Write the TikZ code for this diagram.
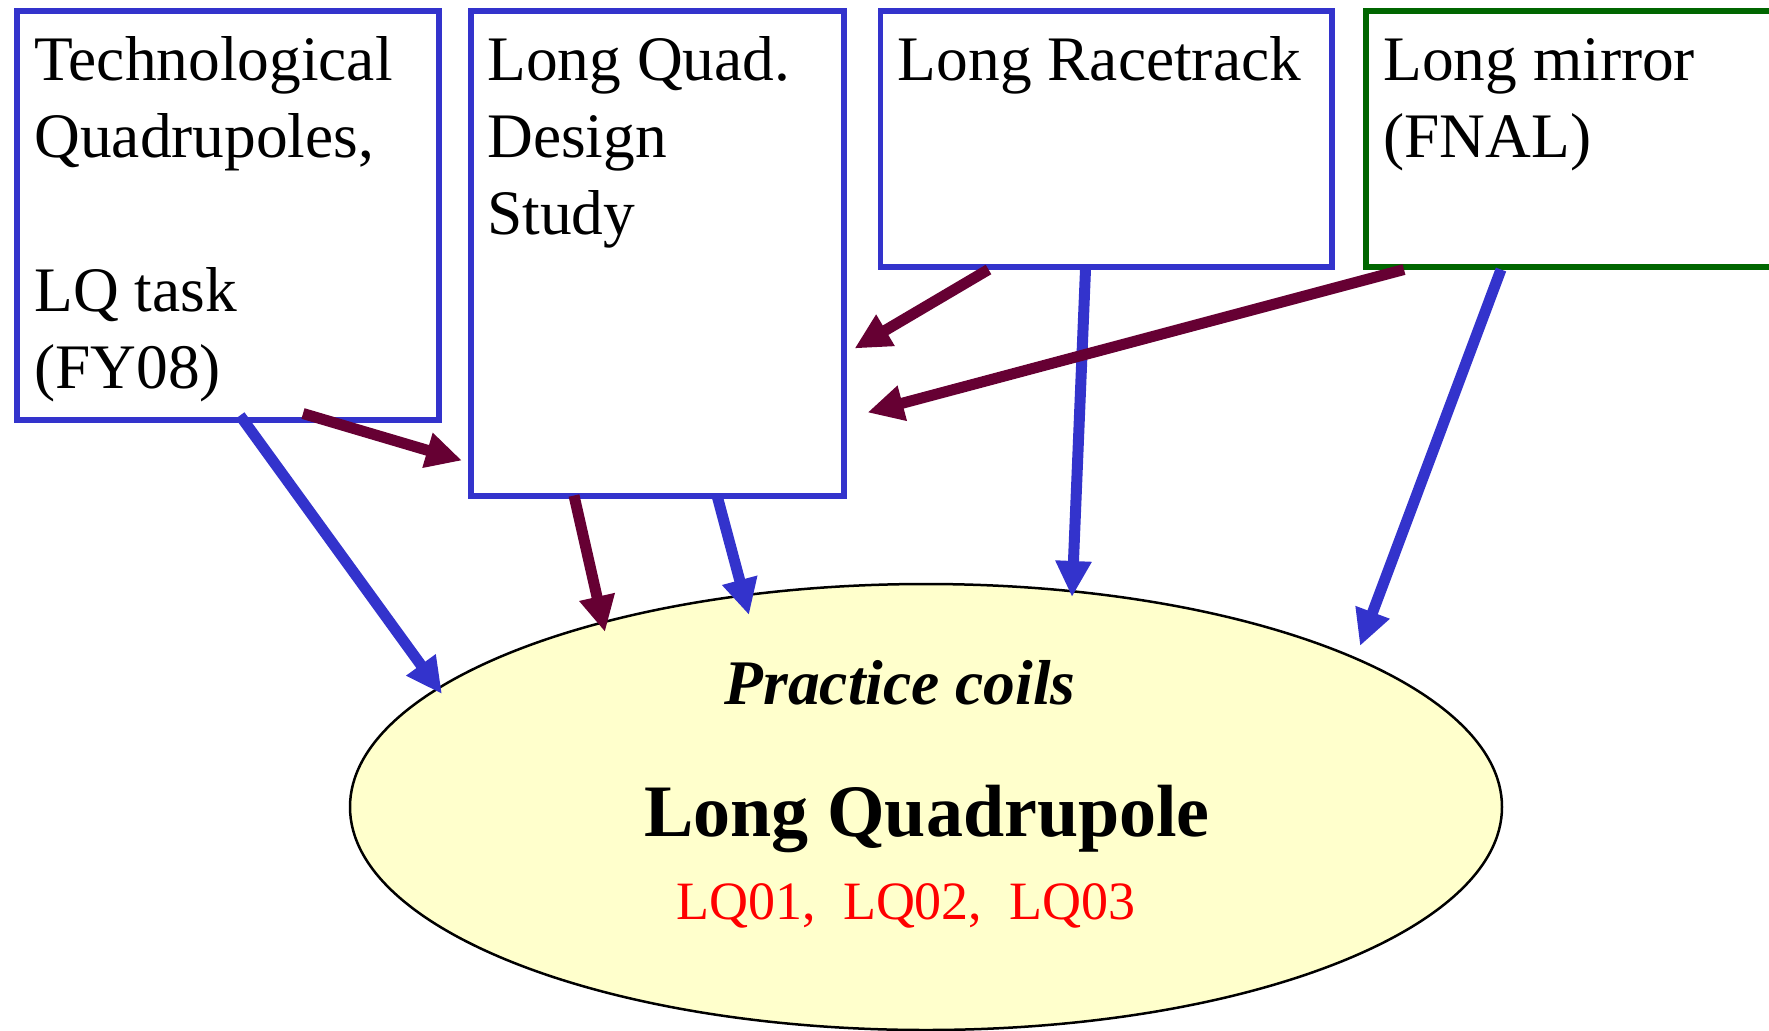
\documentclass[tikz,border=0pt]{standalone}
\usepackage{fontspec}
\setmainfont{Liberation Serif}
\usetikzlibrary{arrows.meta,shapes.geometric}
\definecolor{planblue}{RGB}{51,51,204}
\definecolor{plangreen}{RGB}{0,102,0}
\definecolor{planwine}{RGB}{102,0,51}
\definecolor{coilyellow}{RGB}{255,255,204}
\tikzset{
  taskbox/.style={draw=planblue,line width=2.75pt,anchor=north west,inner sep=0pt},
  tasktext/.style={anchor=base west,align=left,inner sep=0pt,
    font=\fontsize{31.7}{38.5}\selectfont},
  feed/.style={line width=5.5pt,-{Triangle[length=18pt,width=17pt]}},
}
\begin{document}
\begin{tikzpicture}[x=0.5pt,y=-0.5pt]
\clip (0,0) rectangle (1769,1030) ;
% Les quatre boîtes du haut
\node[taskbox,minimum width=211pt,minimum height=204.5pt] (techq) at (14,8) {} ;
\node[taskbox,minimum width=186.5pt,minimum height=242.5pt] (lqd) at (468,8) {} ;
\node[taskbox,minimum width=225.75pt,minimum height=128pt] (track) at (877.5,8) {} ;
\node[taskbox,draw=plangreen,minimum width=225pt,minimum height=128pt] (mirror) at (1363,8) {} ;
% Textes des boîtes (placés par la dernière ligne de base)
\node[tasktext] (techqtext) at ([shift={(20,380)}]techq.north west)
  {Technological\\Quadrupoles,\\[38.5pt]LQ task\\(FY08)} ;
\node[tasktext] (lqdtext) at ([shift={(19,226)}]lqd.north west)
  {Long Quad.\\Design\\Study} ;
\node[tasktext] (tracktext) at ([shift={(20,72)}]track.north west)
  {Long Racetrack} ;
\node[tasktext] (mirrortext) at ([shift={(20,149)}]mirror.north west)
  {Long mirror\\(FNAL)} ;
% L'ellipse : bobines d'essai, quadripôle long
\node[ellipse,draw,line width=1.25pt,fill=coilyellow,inner sep=0pt,%
  minimum width=576pt,minimum height=223pt] (lq) at (926,807) {} ;
\node[anchor=base,inner sep=0pt,font=\fontsize{31.75}{38}\selectfont\bfseries\itshape]
  (coils) at ([shift={(-26,-103)}]lq.center) {Practice coils} ;
\node[anchor=base,inner sep=0pt,font=\fontsize{37}{44}\selectfont\bfseries]
  (lqtitle) at ([shift={(1,29)}]lq.center) {Long Quadrupole} ;
\node[anchor=base,inner sep=0pt,text=red,font=\fontsize{27}{32}\selectfont]
  (lqnames) at ([shift={(-20,112)}]lq.center) {LQ01,~~LQ02,~~LQ03} ;
% Flèches bleues vers l'ellipse
\draw[feed,planblue] ([shift={(226,-7)}]techq.south west) -- ([shift={(-484,-113)}]lq.center) ;
\draw[feed,planblue] ([shift={(249,-3)}]lqd.south west) -- ([shift={(-177,-192)}]lq.center) ;
\draw[feed,planblue] ([shift={(208,0)}]track.south west) -- ([shift={(146,-210)}]lq.center) ;
\draw[feed,planblue] ([shift={(138,0)}]mirror.south west) -- ([shift={(434,-161)}]lq.center) ;
% Flèches bordeaux
\draw[feed,planwine] ([shift={(289,-9)}]techq.south west) -- ([shift={(-6,-38)}]lqd.south west) ;
\draw[feed,planwine] ([shift={(106,-3)}]lqd.south west) -- ([shift={(-321,-175)}]lq.center) ;
\draw[feed,planwine] ([shift={(111,0)}]track.south west) -- ([shift={(8,-150)}]lqd.south east) ;
\draw[feed,planwine] ([shift={(41,0)}]mirror.south west) -- ([shift={(21,-86)}]lqd.south east) ;
\end{tikzpicture}
\end{document}
